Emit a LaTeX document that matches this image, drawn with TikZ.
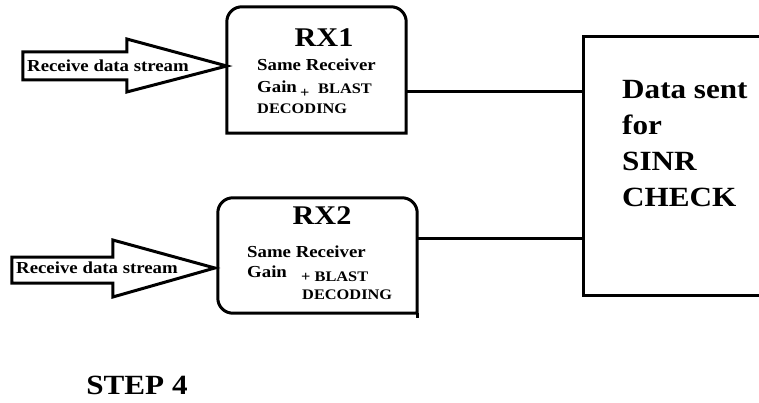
\documentclass[tikz,border=0pt]{standalone}
\usepackage{fontspec}
\setmainfont{Liberation Serif}[FakeStretch=1.12]
\usetikzlibrary{positioning}

\begin{document}
\begin{tikzpicture}[x=1pt, y=-1pt,
  boxline/.style={line width=3pt, line join=miter},
  wire/.style={line width=3pt},
  bigarrow/.style={line width=3pt, line join=miter},
  rxbox/.style={inner sep=0pt},
  sinrbox/.style={draw, line width=3pt, minimum width=192pt, minimum height=258pt, inner sep=0pt},
  rxtitle/.style={inner sep=0pt, font=\bfseries\fontsize{27}{30}\selectfont},
  rxtext/.style={inner sep=0pt, anchor=west, font=\bfseries\fontsize{16.8}{19}\selectfont},
  rxsmall/.style={inner sep=0pt, anchor=west, font=\bfseries\fontsize{14.6}{17}\selectfont},
  streamtext/.style={inner sep=0pt, anchor=west, font=\bfseries\fontsize{16.8}{19}\selectfont},
  bigtext/.style={inner sep=0pt, font=\bfseries\fontsize{27.8}{36}\selectfont}
]
\useasboundingbox (0,0) rectangle (759,403);
\clip (0,0) rectangle (759,403);

% receiver boxes
\node[rxbox, minimum width=179pt, minimum height=126pt] (rx1) at (316.5,70) {};
\node[rxbox, minimum width=199pt, minimum height=115pt] (rx2) at (317.5,255.5) {};
\draw[boxline] (rx1.south west) -- ([yshift=-15pt]rx1.north west)
  arc[start angle=180, end angle=90, radius=15pt] -- ([xshift=-15pt]rx1.north east)
  arc[start angle=90, end angle=0, radius=15pt] -- (rx1.south east) -- cycle;
\draw[boxline] (rx2.south east) -- ([xshift=15pt]rx2.south west)
  arc[start angle=270, end angle=180, radius=15pt] -- ([yshift=-15pt]rx2.north west)
  arc[start angle=180, end angle=90, radius=15pt] -- ([xshift=-15pt]rx2.north east)
  arc[start angle=90, end angle=0, radius=15pt] -- cycle;
\draw[boxline] (rx2.south east) -- ++(0,5);

% SINR box
\node[sinrbox] (sinr) at (679,166) {};
\node[bigtext, align=left, anchor=north west] (msg) at (622,80) {Data sent\\for\\SINR\\CHECK};

% RX1 text
\node[rxtitle] (t1) at (324,38) {RX1};
\node[rxtext] (s1) at (257,65) {Same Receiver};
\node[rxtext] (g1) at (257,87) {Gain};
\node[rxsmall] (p1) at (300,93) {+};
\node[rxsmall] (b1) at (318,89) {BLAST};
\node[rxsmall] (d1) at (257,109) {DECODING};

% RX2 text
\node[rxtitle] (t2) at (322,216) {RX2};
\node[rxtext] (s2) at (247,252) {Same Receiver};
\node[rxtext] (g2) at (247,272) {Gain};
\node[rxsmall] (b2) at (301,277) {+ BLAST};
\node[rxsmall] (d2) at (302,295) {DECODING};

% input arrows
\draw[bigarrow] ([yshift=4pt]rx1.west) -- ++(-100,-27) -- ++(0,13) -- ++(-104,0)
  -- ++(0,28) -- ++(104,0) -- ++(0,12) -- cycle;
\node[streamtext] (in1) at (27,66) {Receive data stream};
\draw[bigarrow] ([xshift=-3pt, yshift=-12.5pt]rx2.west) -- ++(-102,-28) -- ++(0,17) -- ++(-101,0)
  -- ++(0,26) -- ++(101,0) -- ++(0,14) -- cycle;
\node[streamtext] (in2) at (16,268) {Receive data stream};

% links to SINR check
\coordinate (w1) at ([yshift=-22pt]rx1.east);
\coordinate (w2) at ([yshift=17.5pt]rx2.east);
\draw[wire] (w1) -- (w1 -| sinr.west);
\draw[wire] (w2) -- (w2 -| sinr.west);

\node[bigtext] (step) at (137,385) {STEP 4};

\end{tikzpicture}
\end{document}
